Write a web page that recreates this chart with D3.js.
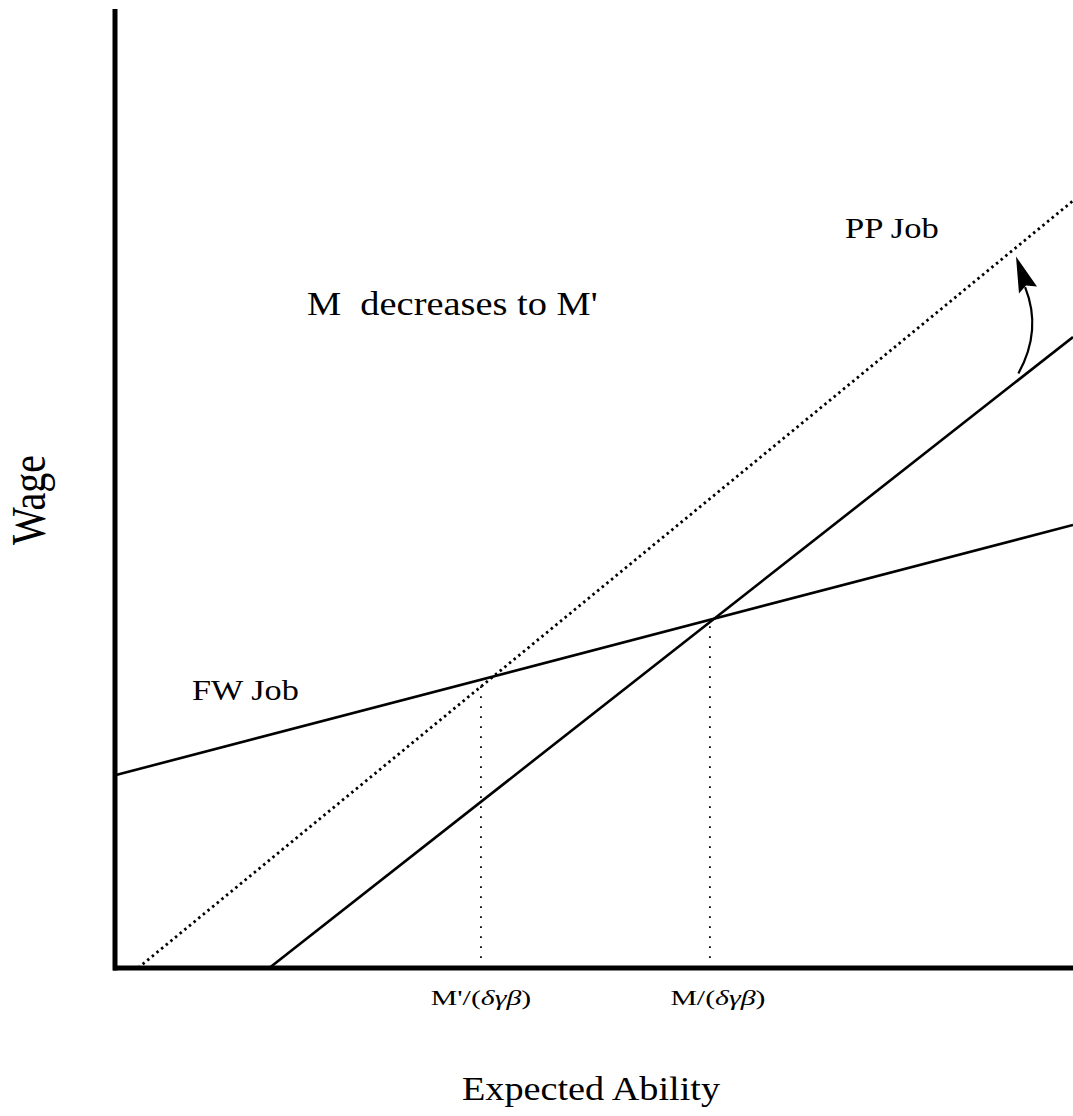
<!DOCTYPE html>
<html lang="en">
<head>
    <meta charset="UTF-8">
    <title>M decreases to M'</title>
    <script src="https://cdn.jsdelivr.net/npm/d3@7"></script>
    <style>
        body { margin: 0; background: #fff; }
        text { font-family: 'Liberation Serif', 'DejaVu Serif', serif; fill: #000; }
    </style>
</head>
<body>
<script>
    // data units: 0..100 on both axes
    const fwJob = [[0, 20.1], [100, 46.2]];
    const ppJob = [[16.1, 0], [100, 65.8]];
    const ppJobNew = [[2.4, 0], [100, 80.0]];
    const cutoffs = [
        {x: 38.2, main: "M'/(", greek: "δγβ"},
        {x: 62.1, main: "M/(", greek: "δγβ"}
    ];
    // start, control, end of the curved arrow, then its tip
    const shiftArrow = [[94.3, 62.0], [96.8, 66.5], [95.0, 71.0], [94.05, 74.2]];

    const W = 1073, H = 1116;
    const x = d3.scaleLinear().domain([0, 100]).range([115, 1073]);
    const y = d3.scaleLinear().domain([0, 100]).range([968, 9]);

    const svg = d3.select("body").append("svg").attr("width", W).attr("height", H);

    const line = d3.line().x(d => x(d[0])).y(d => y(d[1]));
    const fwAt = v => fwJob[0][1] + (fwJob[1][1] - fwJob[0][1]) * (v - fwJob[0][0]) / (fwJob[1][0] - fwJob[0][0]);

    // vertical drop lines
    svg.selectAll("line.drop").data(cutoffs).join("line")
        .attr("x1", d => x(d.x)).attr("x2", d => x(d.x))
        .attr("y1", y(0)).attr("y2", d => y(fwAt(d.x)))
        .attr("stroke", "#000").attr("stroke-width", 1.8)
        .attr("stroke-dasharray", "1.8,8.2");

    svg.append("path").attr("d", line(fwJob))
        .attr("fill", "none").attr("stroke", "#000").attr("stroke-width", 2.6);
    svg.append("path").attr("d", line(ppJob))
        .attr("fill", "none").attr("stroke", "#000").attr("stroke-width", 2.6);
    svg.append("path").attr("d", line(ppJobNew))
        .attr("fill", "none").attr("stroke", "#000").attr("stroke-width", 2.8)
        .attr("stroke-dasharray", "2.5,3.5");

    // axes
    svg.append("line").attr("x1", x(0) - 2).attr("x2", x(100)).attr("y1", y(0)).attr("y2", y(0))
        .attr("stroke", "#000").attr("stroke-width", 5);
    svg.append("line").attr("x1", x(0)).attr("x2", x(0)).attr("y1", y(0) + 2.5).attr("y2", y(100))
        .attr("stroke", "#000").attr("stroke-width", 5);

    // cutoff labels (the source figure is stretched sideways, so the text is too)
    const lab = svg.selectAll("text.cut").data(cutoffs).join("text")
        .attr("transform", (d, i) => `translate(${x(d.x) + (i ? 8 : 0)},1005) scale(1.42,1)`)
        .attr("text-anchor", "middle").attr("font-size", 21);
    lab.append("tspan").text(d => d.main);
    lab.append("tspan").attr("font-style", "italic").text(d => d.greek);
    lab.append("tspan").text(")");

    // shift arrow
    const p = shiftArrow.map(d => [x(d[0]), y(d[1])]);
    const curve = d3.path();
    curve.moveTo(p[0][0], p[0][1]);
    curve.quadraticCurveTo(p[1][0], p[1][1], p[2][0], p[2][1]);
    svg.append("path").attr("d", curve.toString())
        .attr("fill", "none").attr("stroke", "#000").attr("stroke-width", 2.2);
    const [tx, ty] = p[3];
    svg.append("path")
        .attr("d", `M${tx},${ty} L${tx + 3},${ty + 37} L${tx + 10},${ty + 29} L${tx + 21},${ty + 30} Z`)
        .attr("fill", "#000");

    // annotations
    const label = (txt, tx, ty, size, sx, anchor) => svg.append("text")
        .attr("transform", `translate(${tx},${ty}) scale(${sx},1)`)
        .attr("text-anchor", anchor || "start")
        .attr("font-size", size)
        .attr("xml:space", "preserve")
        .text(txt);

    label("M  decreases to M'", 307, 315, 34, 1.13);
    label("PP Job", 845, 238, 29, 1.19);
    label("FW Job", 192, 700, 29, 1.18);
    label("Expected Ability", 591, 1100, 33, 1.16, "middle");

    svg.append("text").attr("transform", "translate(45,500) scale(1.2,1) rotate(-90)")
        .attr("text-anchor", "middle").attr("font-size", 40).text("Wage");
</script>
</body>
</html>
